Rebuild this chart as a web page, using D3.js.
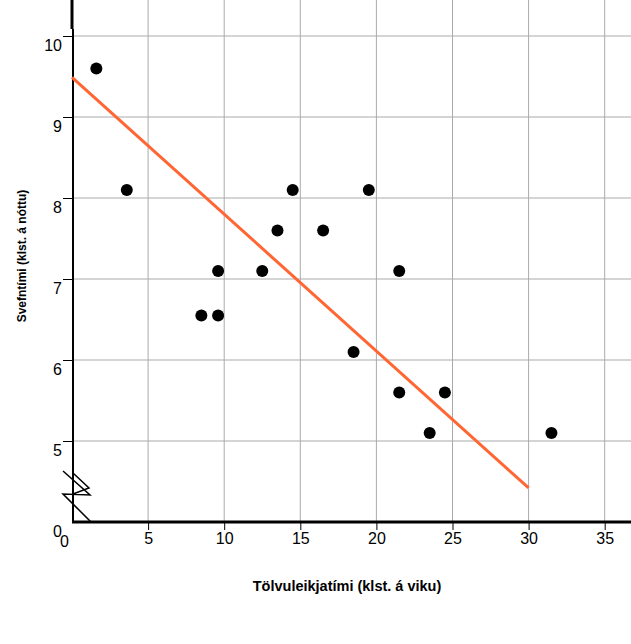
<!DOCTYPE html>
<html>
<head>
<meta charset="utf-8">
<script src="https://cdn.jsdelivr.net/npm/d3@7"></script>
<style>
  body { margin: 0; background: #fff; }
  text { font-family: "Liberation Sans", Arial, sans-serif; }
</style>
</head>
<body>
<svg id="chart"></svg>
<script>
// data
var gameHours  = [1.6, 3.6, 8.5, 9.6, 9.6, 12.5, 13.5, 14.5, 16.5, 18.5, 19.5, 21.5, 21.5, 23.5, 24.5, 31.5];
var sleepHours = [9.6, 8.1, 6.55, 6.55, 7.1, 7.1, 7.6, 8.1, 7.6, 6.1, 8.1, 7.1, 5.6, 5.1, 5.6, 5.1];
var trendX = [0, 30];
var trendY = [9.49, 4.42];
var xTicks = [0, 5, 10, 15, 20, 25, 30, 35];
var yTicks = [4, 5, 6, 7, 8, 9, 10];   // 4 sits where the broken axis shows 0
var xTitle = "Tölvuleikjatími (klst. á viku)";
var yTitle = "Svefntími (klst. á nóttu)";

var W = 631, H = 644;
var svg = d3.select("#chart").attr("width", W).attr("height", H);

var x = d3.scaleLinear().domain([0, 35]).range([72, 604.7]);
var y = d3.scaleLinear().domain([4, 10]).range([522, 36]);

// grid
svg.append("g")
  .selectAll("line")
  .data(xTicks.filter(function (d) { return d > 0; }))
  .enter().append("line")
    .attr("x1", function (d) { return x(d); })
    .attr("x2", function (d) { return x(d); })
    .attr("y1", 0).attr("y2", 522)
    .attr("stroke", "#aaa").attr("stroke-width", 1);

svg.append("g")
  .selectAll("line")
  .data(yTicks.filter(function (d) { return d > 4; }))
  .enter().append("line")
    .attr("x1", 73).attr("x2", W)
    .attr("y1", function (d) { return y(d); })
    .attr("y2", function (d) { return y(d); })
    .attr("stroke", "#aaa").attr("stroke-width", 1);

// axes
var xAxis = svg.append("g")
  .attr("transform", "translate(0,522)")
  .call(d3.axisBottom(x).tickValues(xTicks).tickSize(8).tickSizeOuter(0));
xAxis.select(".domain").remove();
xAxis.selectAll(".tick text").style("font-size", "16px").attr("fill", "#000");
xAxis.selectAll(".tick").filter(function (d) { return d === 0; })
  .select("line").remove();
xAxis.selectAll(".tick").filter(function (d) { return d === 0; })
  .select("text").attr("dx", -8).attr("dy", "0.85em");

var yAxis = svg.append("g")
  .attr("transform", "translate(73,0)")
  .call(d3.axisLeft(y).tickValues(yTicks).tickSize(10).tickPadding(1).tickSizeOuter(0)
    .tickFormat(function (d) { return d === 4 ? "0" : d; }));
yAxis.select(".domain").remove();
yAxis.selectAll(".tick text").style("font-size", "16px").attr("fill", "#000").attr("dy", "0.88em");
yAxis.selectAll(".tick").filter(function (d) { return d === 4; })
  .select("line").remove();

// axis lines
svg.append("line").attr("x1", 73).attr("x2", 73).attr("y1", 29).attr("y2", 522)
  .attr("stroke", "#000").attr("stroke-width", 2);
svg.append("line").attr("x1", 72).attr("x2", 72).attr("y1", 0).attr("y2", 29)
  .attr("stroke", "#000").attr("stroke-width", 3);
svg.append("line").attr("x1", 72).attr("x2", W).attr("y1", 522).attr("y2", 522)
  .attr("stroke", "#000").attr("stroke-width", 3);

// axis break mark
svg.append("path")
  .attr("d", "M63,471 L90,495 L63,494 L91,522 M73,473 L89,488 L73,494")
  .attr("fill", "none").attr("stroke", "#000").attr("stroke-width", 1.5);

// trend line
var line = d3.line()
  .x(function (d, i) { return x(trendX[i]); })
  .y(function (d) { return y(d); });
svg.append("path")
  .datum(trendY)
  .attr("d", line)
  .attr("fill", "none")
  .attr("stroke", "#ff6633")
  .attr("stroke-width", 3);

// points
svg.append("g")
  .selectAll("circle")
  .data(gameHours)
  .enter().append("circle")
    .attr("cx", function (d) { return x(d); })
    .attr("cy", function (d, i) { return y(sleepHours[i]); })
    .attr("r", 6)
    .attr("fill", "#000");

// titles
svg.append("text")
  .attr("x", 347).attr("y", 591)
  .attr("text-anchor", "middle")
  .style("font-size", "14.5px").style("font-weight", "bold")
  .text(xTitle);

svg.append("text")
  .attr("transform", "translate(26,256) rotate(-90)")
  .attr("text-anchor", "middle")
  .style("font-size", "12px").style("font-weight", "bold")
  .text(yTitle);
</script>
</body>
</html>
